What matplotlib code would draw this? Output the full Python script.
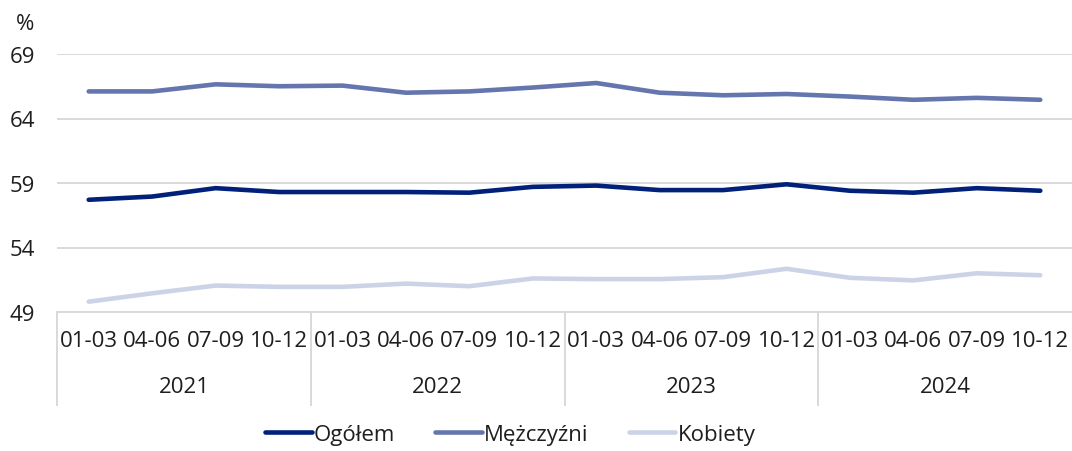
import matplotlib
matplotlib.use("Agg")
import matplotlib.pyplot as plt
import matplotlib.transforms as mtransforms
import numpy as np

plt.rcParams["font.family"] = ["Open Sans", "DejaVu Sans"]

quarters = ["01-03", "04-06", "07-09", "10-12"]
years = ["2021", "2022", "2023", "2024"]

ogolem = [57.7, 57.95, 58.6, 58.3, 58.3, 58.3, 58.25, 58.7,
          58.8, 58.45, 58.45, 58.9, 58.4, 58.25, 58.6, 58.4]
mezczyzni = [66.1, 66.1, 66.65, 66.5, 66.55, 66.0, 66.1, 66.4,
             66.75, 66.0, 65.8, 65.9, 65.7, 65.45, 65.6, 65.45]
kobiety = [49.8, 50.45, 51.05, 50.95, 50.95, 51.2, 51.0, 51.6,
           51.55, 51.55, 51.7, 52.35, 51.65, 51.45, 52.0, 51.85]

series = [("Ogółem", ogolem, "#00207a"),
          ("Mężczyźni", mezczyzni, "#6576ae"),
          ("Kobiety", kobiety, "#cdd3e7")]

grid_col = "#d9d9d9"
text_col = "#1e1e1e"
fs = 16

fig = plt.figure(figsize=(10.72, 4.52), dpi=100)
ax = fig.add_axes([57 / 1072, (452 - 313) / 452, 1 - 57 / 1072, 258 / 452])

x = np.arange(len(ogolem))
for name, vals, col in series:
    ax.plot(x, vals, color=col, lw=3.3, label=name, solid_capstyle="round", zorder=3)

ax.set_xlim(-0.5, len(x) - 0.5)
ax.set_ylim(49, 69)
ax.set_yticks([49, 54, 59, 64, 69])
ax.tick_params(axis="y", length=0, labelsize=fs, labelcolor=text_col, pad=16)
ax.set_xticks([])
ax.grid(axis="y", color=grid_col, lw=1.4)
ax.set_axisbelow(True)
for s in ["top", "right", "left"]:
    ax.spines[s].set_visible(False)
ax.spines["bottom"].set_color(grid_col)
ax.spines["bottom"].set_linewidth(1.4)

ax.text(-0.041, 1.12, "%", transform=ax.transAxes, fontsize=fs, color=text_col,
        ha="left", va="center")

# two-level category axis: quarters on top, years below, separators between years
trans = mtransforms.blended_transform_factory(ax.transData, ax.transAxes)
for i in x:
    ax.text(i, -0.112, quarters[i % 4], transform=trans, ha="center", va="center",
            fontsize=fs, color=text_col)
for k, yr in enumerate(years):
    ax.text(4 * k + 1.5, -0.29, yr, transform=trans, ha="center", va="center",
            fontsize=fs, color=text_col)
    ax.plot([4 * k - 0.5, 4 * k - 0.5], [0, -0.36], transform=trans, color=grid_col,
            lw=1.4, clip_on=False)

fig.legend(loc="center", bbox_to_anchor=(0.476, 0.036), ncol=3, frameon=False,
           fontsize=fs, handlelength=2.1, handletextpad=0.1, columnspacing=1.8,
           labelcolor=text_col)

fig.savefig("out.png", dpi=100)
